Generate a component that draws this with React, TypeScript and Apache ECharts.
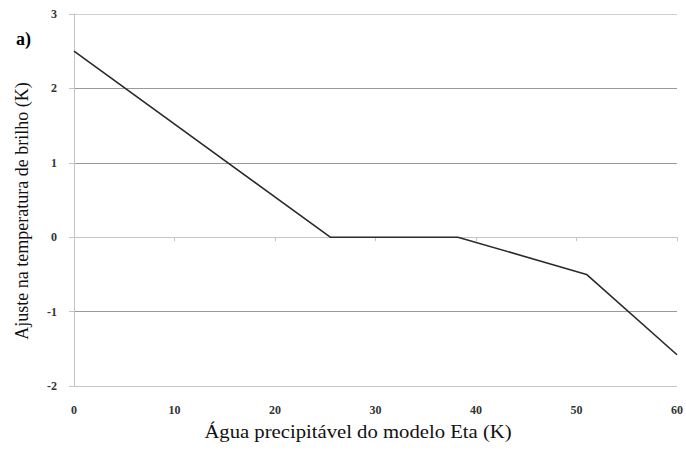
import React, { useEffect, useRef } from "react";
import * as echarts from "echarts";

const xValues = [0, 25.5, 38.2, 51, 60];
const yValues = [2.5, 0, 0, -0.5, -1.58];
const xTicks = [0, 10, 20, 30, 40, 50, 60];
const yTicks = [-2, -1, 0, 1, 2, 3];
const xTitle = "Água precipitável do modelo Eta (K)";
const yTitle = "Ajuste na temperatura de brilho (K)";
const panelLabel = "a)";

export default function App() {
  const ref = useRef<HTMLDivElement>(null);
  useEffect(() => {
    if (!ref.current) return;
    const chart = echarts.init(ref.current, null, { renderer: "svg" });
    const serif = "Liberation Serif";
    chart.setOption({
      animation: false,
      backgroundColor: "#ffffff",
      grid: { left: 74, right: 8, top: 14, bottom: 81 },
      xAxis: {
        type: "value",
        min: xTicks[0],
        max: xTicks[xTicks.length - 1],
        interval: 10,
        axisLine: { show: true, lineStyle: { color: "#c4c4c4", width: 1 } },
        axisTick: { show: true, length: 4, inside: false, lineStyle: { color: "#c4c4c4" } },
        splitLine: { show: false },
        axisLabel: { fontFamily: serif, fontWeight: "bold", fontSize: 12, color: "#333", margin: 18 },
      },
      yAxis: {
        type: "value",
        min: yTicks[0],
        max: yTicks[yTicks.length - 1],
        interval: 1,
        axisLine: { show: true, lineStyle: { color: "#c4c4c4", width: 1 } },
        axisTick: { show: true, length: 5, lineStyle: { color: "#c4c4c4" } },
        splitLine: {
          show: true,
          lineStyle: {
            color: ["#c4c4c4", "#9a9a9a", "#9a9a9a", "#9a9a9a", "#9a9a9a", "#d0d0d0"],
            width: 1,
          },
        },
        axisLabel: { fontFamily: serif, fontWeight: "bold", fontSize: 12, color: "#333", margin: 17 },
      },
      series: [
        {
          type: "line",
          data: xValues.map((x, i) => [x, yValues[i]]),
          showSymbol: false,
          lineStyle: { color: "#2a2a2a", width: 1.6 },
          silent: true,
        },
      ],
      graphic: [
        {
          type: "text",
          x: 16,
          y: 30,
          style: { text: panelLabel, fontFamily: serif, fontWeight: "bold", fontSize: 18, fill: "#000" },
        },
        {
          type: "text",
          x: 22,
          y: 211,
          rotation: Math.PI / 2,
          style: {
            text: yTitle,
            fontFamily: serif,
            fontSize: 18,
            fill: "#111",
            align: "center",
            verticalAlign: "middle",
          },
        },
        {
          type: "text",
          x: 358,
          y: 432,
          scaleX: 1.15,
          style: {
            text: xTitle,
            fontFamily: serif,
            fontSize: 18,
            fill: "#111",
            align: "center",
            verticalAlign: "middle",
          },
        },
      ],
    });
    return () => chart.dispose();
  }, []);
  return <div ref={ref} style={{ width: 686, height: 467, position: "absolute", left: 0, top: 0 }} />;
}
